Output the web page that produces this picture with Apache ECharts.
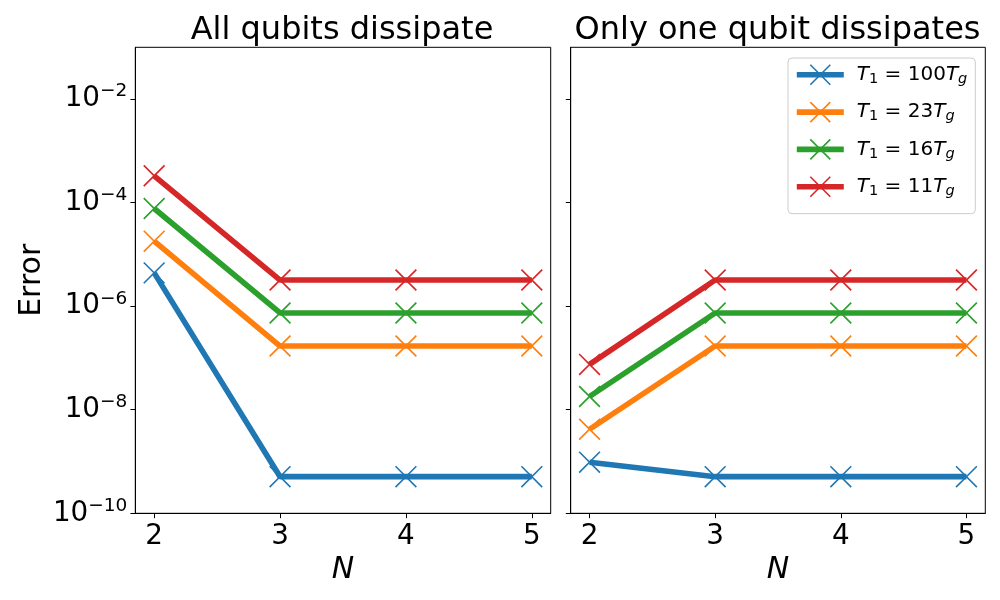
<!DOCTYPE html>
<html>
<head>
<meta charset="utf-8">
<script src="https://cdn.jsdelivr.net/npm/echarts@6/dist/echarts.min.js"></script>
<style>html,body{margin:0;padding:0;background:#fff;}#c{width:1000px;height:600px;}</style>
</head>
<body>
<div id="c"></div>
<script>
// ---- data ----
const N = [2, 3, 4, 5];
const t1Labels = ['100', '23', '16', '11'];
const seriesNames = ['T1 = 100Tg', 'T1 = 23Tg', 'T1 = 16Tg', 'T1 = 11Tg'];
const colors = ['#1f77b4', '#ff7f0e', '#2ca02c', '#d62728'];
const panelTitles = ['All qubits dissipate', 'Only one qubit dissipates'];
const yTickValues = [1e-10, 1e-8, 1e-6, 1e-4, 1e-2];
const xTickValues = [2, 3, 4, 5];

// All qubits dissipate
const all100 = [4.4e-6, 5.1e-10, 5.1e-10, 5.1e-10];
const all23 = [1.8e-5, 1.7e-7, 1.7e-7, 1.7e-7];
const all16 = [7.7e-5, 7.4e-7, 7.4e-7, 7.4e-7];
const all11 = [3.3e-4, 3.2e-6, 3.2e-6, 3.2e-6];
// Only one qubit dissipates
const one100 = [9.7e-10, 5.1e-10, 5.1e-10, 5.1e-10];
const one23 = [4.2e-9, 1.7e-7, 1.7e-7, 1.7e-7];
const one16 = [1.8e-8, 7.4e-7, 7.4e-7, 7.4e-7];
const one11 = [7.5e-8, 3.2e-6, 3.2e-6, 3.2e-6];

const panels = [[all100, all23, all16, all11], [one100, one23, one16, one11]];

// ---- chart ----
const FONT = 'DejaVu Sans';
const X_SYMBOL = 'path://M0,0L10,10M10,0L0,10';
const chart = echarts.init(document.getElementById('c'), null, {renderer: 'canvas'});

const grids = [
  {left: 135.3, top: 47.3, width: 415.4, height: 466, show: true, borderColor: '#000', borderWidth: 1, containLabel: false},
  {left: 570.7, top: 47.3, width: 414.6, height: 466, show: true, borderColor: '#000', borderWidth: 1, containLabel: false}
];

function expLabel(v) {
  let e = v > 0 ? Math.round(Math.log10(v)) : Math.round(v);
  return '{b|10}{s|\u2212' + Math.abs(e) + '}';
}

const xAxes = [0, 1].map(i => ({
  type: 'value', gridIndex: i, min: 1.85, max: 5.15,
  name: 'N', nameLocation: 'middle', nameGap: 37,
  nameTextStyle: {fontFamily: FONT, fontSize: 30, fontStyle: 'italic', color: '#000'},
  axisLine: {show: true, onZero: false, lineStyle: {color: '#000', width: 1}},
  axisTick: {show: true, length: 4.9, lineStyle: {color: '#000', width: 1}, customValues: xTickValues},
  axisLabel: {fontFamily: FONT, fontSize: 27.8, color: '#000', margin: 9, customValues: xTickValues},
  splitLine: {show: false}
}));

const yAxes = [0, 1].map(i => ({
  type: 'log', gridIndex: i, min: 1e-10, max: 1e-1, logBase: 10,
  name: i === 0 ? 'Error' : '', nameLocation: 'middle', nameGap: 88, nameRotate: 90,
  nameTextStyle: {fontFamily: FONT, fontSize: 30, color: '#000'},
  axisLine: {show: true, onZero: false, lineStyle: {color: '#000', width: 1}},
  axisTick: {show: true, length: 4.9, lineStyle: {color: '#000', width: 1}, customValues: yTickValues},
  axisLabel: {
    show: i === 0, margin: 8, customValues: yTickValues,
    formatter: expLabel,
    rich: {
      b: {fontFamily: FONT, fontSize: 27.8, color: '#000'},
      s: {fontFamily: FONT, fontSize: 18.5, color: '#000', padding: [0, 0, 15, 0]}
    }
  },
  splitLine: {show: false},
  minorTick: {show: false}
}));

const series = [];
panels.forEach((arrs, p) => {
  arrs.forEach((vals, k) => {
    series.push({
      name: seriesNames[k], type: 'line', xAxisIndex: p, yAxisIndex: p,
      data: N.map((n, j) => [n, vals[j]]),
      symbol: X_SYMBOL, symbolSize: 20.8, showSymbol: true,
      lineStyle: {color: colors[k], width: 5.6},
      itemStyle: {color: colors[k], borderColor: colors[k], borderWidth: 1.6},
      emphasis: {disabled: true},
      animation: false, z: 2 + k
    });
  });
});

const legendMap = {};
seriesNames.forEach((n, k) => { legendMap[n] = t1Labels[k]; });

const option = {
  backgroundColor: '#fff',
  animation: false,
  title: panelTitles.map((t, i) => ({
    text: t, left: i === 0 ? 337 : 772.5, top: 10, textAlign: 'center',
    textStyle: {fontFamily: FONT, fontSize: 32, fontWeight: 'normal', color: '#000'}
  })),
  legend: {
    data: seriesNames, orient: 'vertical', left: 788, top: 58,
    padding: [6, 8, 15, 6], itemGap: 14.5, itemWidth: 47, itemHeight: 25,
    backgroundColor: 'rgba(255,255,255,0.8)', borderColor: '#cccccc', borderWidth: 1, borderRadius: 4,
    lineStyle: {width: 5.6}, itemStyle: {borderWidth: 1.6},
    formatter: name => '{sp|}{i|T}{sub|1}{n| = ' + legendMap[name] + '}{i|T}{subi|g}',
    textStyle: {
      fontFamily: FONT, fontSize: 20, color: '#000',
      rich: {
        sp: {width: 8},
        i: {fontFamily: FONT, fontSize: 20, fontStyle: 'italic', color: '#000'},
        n: {fontFamily: FONT, fontSize: 20, color: '#000'},
        sub: {fontFamily: FONT, fontSize: 14.5, color: '#000', padding: [9, 0, 0, 0]},
        subi: {fontFamily: FONT, fontSize: 14.5, fontStyle: 'italic', color: '#000', padding: [9, 0, 0, 0]}
      }
    },
    selectedMode: false
  },
  grid: grids,
  xAxis: xAxes,
  yAxis: yAxes,
  series: series
};
chart.setOption(option);
</script>
</body>
</html>
